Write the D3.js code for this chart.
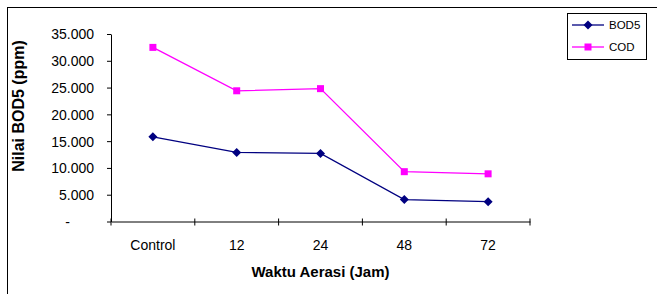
<!DOCTYPE html>
<html><head><meta charset="utf-8">
<script src="https://cdn.jsdelivr.net/npm/d3@7"></script>
<style>body{margin:0;background:#fff}svg{display:block}text{font-family:"Liberation Sans",Arial,sans-serif}</style>
</head><body>
<script>
const categories = ["Control","12","24","48","72"];
const bod5 = [15800, 12900, 12700, 4100, 3700];
const cod = [32500, 24400, 24800, 9300, 8900];
const yTicks = [0,5000,10000,15000,20000,25000,30000,35000];
const yTickLabels = ["-","5.000","10.000","15.000","20.000","25.000","30.000","35.000"];

const W=657,H=294;
const svg=d3.select("body").append("svg").attr("width",W).attr("height",H);
svg.append("rect").attr("x",7.5).attr("y",7.5).attr("width",W).attr("height",H).attr("fill","#fff").attr("stroke","#000").attr("stroke-width",1);

const m={l:111,r:530,t:34,b:221.5};
const x=d3.scaleBand().domain(categories).range([m.l,m.r]);
const y=d3.scaleLinear().domain([0,35000]).range([m.b,m.t]);

const yAxis=svg.append("g").attr("transform",`translate(${m.l},0)`)
 .call(d3.axisLeft(y).tickValues(yTicks).tickFormat((d,i)=>yTickLabels[i]).tickSize(4).tickSizeOuter(0));
yAxis.select(".domain").attr("stroke","#000");
yAxis.selectAll("text").attr("font-size",14).attr("fill","#000").attr("x",-17).attr("dy","0.35em");
yAxis.selectAll("text").filter((d,i)=>i===0).attr("x",-41);

const xAxis=svg.append("g").attr("transform",`translate(0,${m.b})`)
 .call(d3.axisBottom(x).tickSize(0).tickSizeOuter(0));
xAxis.select(".domain").attr("stroke","#000");
xAxis.selectAll("text").attr("font-size",14).attr("fill","#000").attr("y",0).attr("dy",28);
const bounds=[m.l].concat(categories.map(c=>x(c)+x.bandwidth()));
svg.append("g").selectAll("line").data(bounds).join("line")
 .attr("x1",d=>d).attr("x2",d=>d).attr("y1",m.b-3).attr("y2",m.b+4).attr("stroke","#000");

const cx=c=>x(c)+x.bandwidth()/2;
const line=d3.line().x((d,i)=>cx(categories[i])).y(d=>y(d));
svg.append("path").datum(cod).attr("d",line).attr("fill","none").attr("stroke","#ff00ff").attr("stroke-width",1.3);
svg.append("path").datum(bod5).attr("d",line).attr("fill","none").attr("stroke","#000080").attr("stroke-width",1.3);
svg.append("g").selectAll("rect").data(cod).join("rect")
 .attr("x",(d,i)=>cx(categories[i])-3.5).attr("y",d=>y(d)-3.5).attr("width",7).attr("height",7).attr("fill","#ff00ff");
const dia="M0,-4.5L4.5,0L0,4.5L-4.5,0Z";
svg.append("g").selectAll("path").data(bod5).join("path")
 .attr("d",dia).attr("transform",(d,i)=>`translate(${cx(categories[i])},${y(d)})`).attr("fill","#000080");

svg.append("text").attr("x",(m.l+m.r)/2).attr("y",277).attr("text-anchor","middle")
 .attr("font-size",15).attr("font-weight","bold").text("Waktu Aerasi (Jam)");
svg.append("text").attr("transform",`translate(24,106) rotate(-90)`).attr("text-anchor","middle")
 .attr("font-size",16).attr("font-weight","bold").text("Nilai BOD5 (ppm)");

const lg=svg.append("g");
lg.append("rect").attr("x",567.5).attr("y",13.5).attr("width",79).attr("height",46).attr("fill","#fff").attr("stroke","#000");
const items=[{n:"BOD5",c:"#000080",s:"d",yy:25},{n:"COD",c:"#ff00ff",s:"s",yy:47}];
items.forEach(it=>{
 lg.append("line").attr("x1",572).attr("x2",604).attr("y1",it.yy).attr("y2",it.yy).attr("stroke",it.c).attr("stroke-width",1.3);
 if(it.s==="d") lg.append("path").attr("d",dia).attr("transform",`translate(588,${it.yy})`).attr("fill",it.c);
 else lg.append("rect").attr("x",584.5).attr("y",it.yy-3.5).attr("width",7).attr("height",7).attr("fill",it.c);
 lg.append("text").attr("x",609).attr("y",it.yy+4).attr("font-size",11.5).attr("fill","#000").text(it.n);
});
</script>
</body></html>
